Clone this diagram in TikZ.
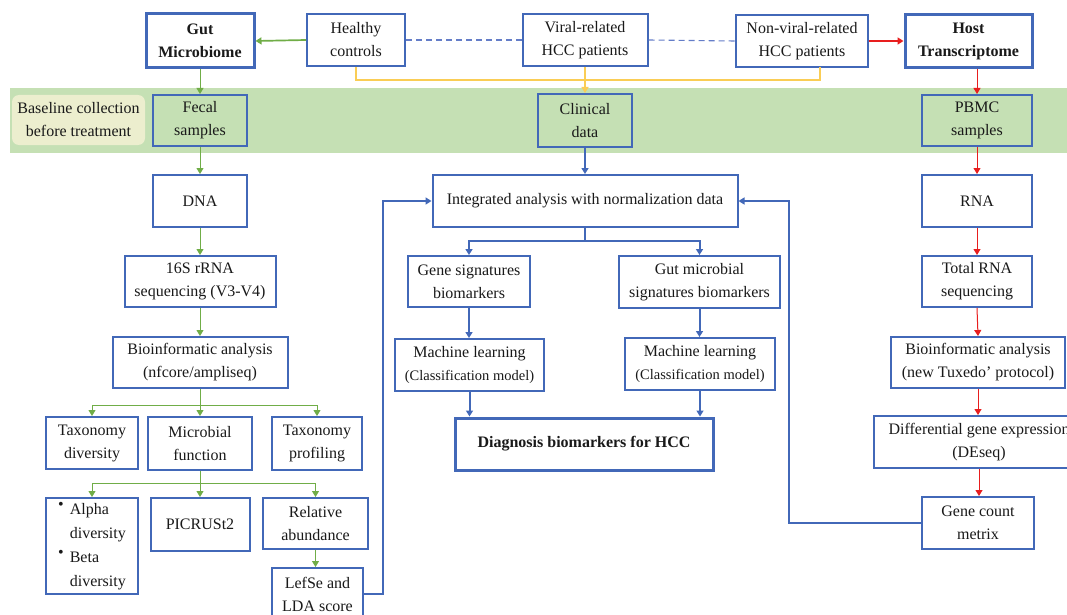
\documentclass[tikz,border=0pt]{standalone}
\usepackage{fontspec}
\setmainfont{Liberation Serif}
\usetikzlibrary{arrows.meta}
\definecolor{boxblue}{RGB}{66,104,184}
\definecolor{bandgreen}{RGB}{197,224,180}
\definecolor{baseyellow}{RGB}{236,238,206}
\definecolor{arrgreen}{RGB}{112,173,71}
\definecolor{arryellow}{RGB}{250,205,85}
\definecolor{arrred}{RGB}{232,30,30}
\definecolor{dashblue}{RGB}{100,125,200}
\begin{document}
\begin{tikzpicture}[x=1pt,y=-1pt,
  sz/.style 2 args={minimum width=#1pt, minimum height=#2pt},
  box/.style={draw=boxblue, line width=2pt, fill=white, inner sep=0pt, align=center,
    font=\fontsize{16}{23}\selectfont, text=black!90},
  boldbox/.style={box, line width=3pt, font=\fontsize{16}{23}\selectfont\bfseries},
  greenbox/.style={box, fill=bandgreen},
  tip/.style={-{Triangle[width=7pt,length=6pt]}},
  ga/.style={draw=arrgreen, line width=1pt, tip},
  gathick/.style={draw=arrgreen, line width=1.7pt, tip},
  ra/.style={draw=arrred, line width=1pt, tip},
  rathick/.style={draw=arrred, line width=2pt, tip},
  ba/.style={draw=boxblue, line width=2pt, tip},
  ya/.style={draw=arryellow, line width=1.7pt},
  dl/.style={draw=dashblue, line width=1.1pt, dash pattern=on 6pt off 4pt}
]
\useasboundingbox (0,0) rectangle (1067,615);
\fill[white] (0,0) rectangle (1067,615);
% band
\fill[bandgreen] (10,88) rectangle (1067,153);
\node[fill=baseyellow, rounded corners=7pt, inner sep=0pt, sz={133}{50}, align=center,
  font=\fontsize{16}{23}\selectfont, text=black!90] (base) at (78.5,120) {Baseline collection\\before treatment};

% top row
\node[boldbox, sz={108}{54}] (gut) at (200,41) {Gut\\Microbiome};
\node[box, sz={98}{52}] (healthy) at (356,40) {Healthy\\controls};
\node[box, sz={125}{52}] (viral) at (585,40) {Viral-related\\HCC patients};
\node[box, sz={132}{52}] (nonviral) at (802,41) {Non-viral-related\\HCC patients};
\node[boldbox, sz={127}{53}] (host) at (968.5,41) {Host\\Transcriptome};

% band row
\node[greenbox, sz={94}{51}] (fecal) at (200,120.5) {Fecal\\samples};
\node[greenbox, sz={94}{53}] (clinical) at (585,120.5) {Clinical\\data};
\node[greenbox, sz={110}{51}] (pbmc) at (977,120.5) {PBMC\\samples};

% left column
\node[box, sz={94}{52}] (dna) at (200,201) {DNA};
\node[box, sz={151}{51}] (s16) at (200,281.5) {16S rRNA\\sequencing (V3-V4)};
\node[box, sz={175}{51}] (bioL) at (200,362.5) {Bioinformatic analysis\\(nfcore/ampliseq)};
\node[box, sz={92}{52}] (taxdiv) at (92,443) {Taxonomy\\diversity};
\node[box, sz={104}{53}] (microfn) at (200,443.5) {Microbial\\function};
\node[box, sz={90}{53}] (taxprof) at (317,443.5) {Taxonomy\\profiling};
\node[box, sz={92}{96}] (alpha) at (92,546) {\renewcommand{\arraystretch}{1}%
  \begin{tabular}{@{}l@{\hspace{6pt}}l@{}}\raisebox{5pt}{\textbullet} & Alpha\\[1pt] & diversity\\[1pt]
  \raisebox{5pt}{\textbullet} & Beta\\[1pt] & diversity\end{tabular}};
\node[box, sz={99}{53}] (picrust) at (200,524.5) {PICRUSt2};
\node[box, sz={105}{51}] (relab) at (315.5,523.5) {Relative\\abundance};
\node[box, sz={91}{52}] (lefse) at (317.5,594) {LefSe and\\LDA score};

% middle
\node[box, sz={305}{52}] (integ) at (585,201) {Integrated analysis with normalization data};
\node[box, sz={122}{51}] (genesig) at (469,281.5) {Gene signatures\\biomarkers};
\node[box, sz={161}{52}] (gutsig) at (699.5,282) {Gut microbial\\signatures biomarkers};
\node[box, sz={149}{52}] (mlL) at (469.5,365) {Machine learning\\{\fontsize{14.5}{23}\selectfont(Classification model)}};
\node[box, sz={150}{52}] (mlR) at (700,364) {Machine learning\\{\fontsize{14.5}{23}\selectfont(Classification model)}};
\node[boldbox, sz={258}{52}] (diag) at (584,444) {Diagnosis biomarkers for HCC};

% right column
\node[box, sz={110}{52}] (rna) at (977,201) {RNA};
\node[box, sz={110}{51}] (totrna) at (977,281.5) {Total RNA\\sequencing};
\node[box, sz={174}{51}] (bioR) at (978,362.5) {Bioinformatic analysis\\(new Tuxedo' protocol)};
\node[box, sz={210}{52}] (diffexp) at (979,442) {Differential gene expression\\(DEseq)};
\node[box, sz={112}{52}] (genecount) at (978,523) {Gene count\\metrix};

% top connectors
\draw[gathick] (healthy.west) -- (gut.east);
\draw[dl] (healthy.east) -- (viral.west);
\draw[dl] (viral.east) -- (nonviral.west);
\draw[rathick] (nonviral.east) -- (host.west);
\coordinate (ynv) at (820,67);
\draw[ya] (healthy.south) -- (356,80) -- (820,80) -- (ynv);
\draw[ya, tip] (viral.south) -- (clinical.north);

% left column connectors
\draw[ga] (gut.south) -- (fecal.north);
\draw[ga] (fecal.south) -- (dna.north);
\draw[ga] (dna.south) -- (s16.north);
\draw[ga] (s16.south) -- (bioL.north);
\coordinate (br1) at (200,405);
\draw[ga] (bioL.south) -- (br1) -| (taxdiv.north);
\draw[ga] (br1) -| (taxprof.north);
\draw[ga] (bioL.south) -- (microfn.north);
\coordinate (br2) at (200,483);
\draw[ga] (microfn.south) -- (br2) -| (alpha.north);
\draw[ga] (br2) -| (relab.north);
\draw[ga] (microfn.south) -- (picrust.north);
\draw[ga] (relab.south) -- (relab.south |- lefse.north);

% blue connectors
\coordinate (lc) at (383,594);
\draw[ba] (lefse.east) -- (lc) |- (integ.west);
\coordinate (rc) at (789,523);
\draw[ba] (genecount.west) -- (rc) |- (integ.east);
\draw[ba] (clinical.south) -- (integ.north);
\coordinate (br3) at (585,241);
\draw[ba] (integ.south) -- (br3) -| (genesig.north);
\draw[ba] (br3) -| (gutsig.north);
\draw[ba] (genesig.south) -- (genesig.south |- mlL.north);
\draw[ba] (gutsig.south) -- (gutsig.south |- mlR.north);
\draw[ba] (mlL.south) -- (mlL.south |- diag.north);
\draw[ba] (mlR.south) -- (mlR.south |- diag.north);

% right column connectors
\draw[ra] (pbmc.north |- host.south) -- (pbmc.north);
\draw[ra] (pbmc.south) -- (rna.north);
\draw[ra] (rna.south) -- (totrna.north);
\draw[ra] (totrna.south) -- (bioR.north);
\draw[ra] (bioR.south) -- (bioR.south |- diffexp.north);
\draw[ra] (diffexp.south) -- (diffexp.south |- genecount.north);
\end{tikzpicture}
\end{document}
